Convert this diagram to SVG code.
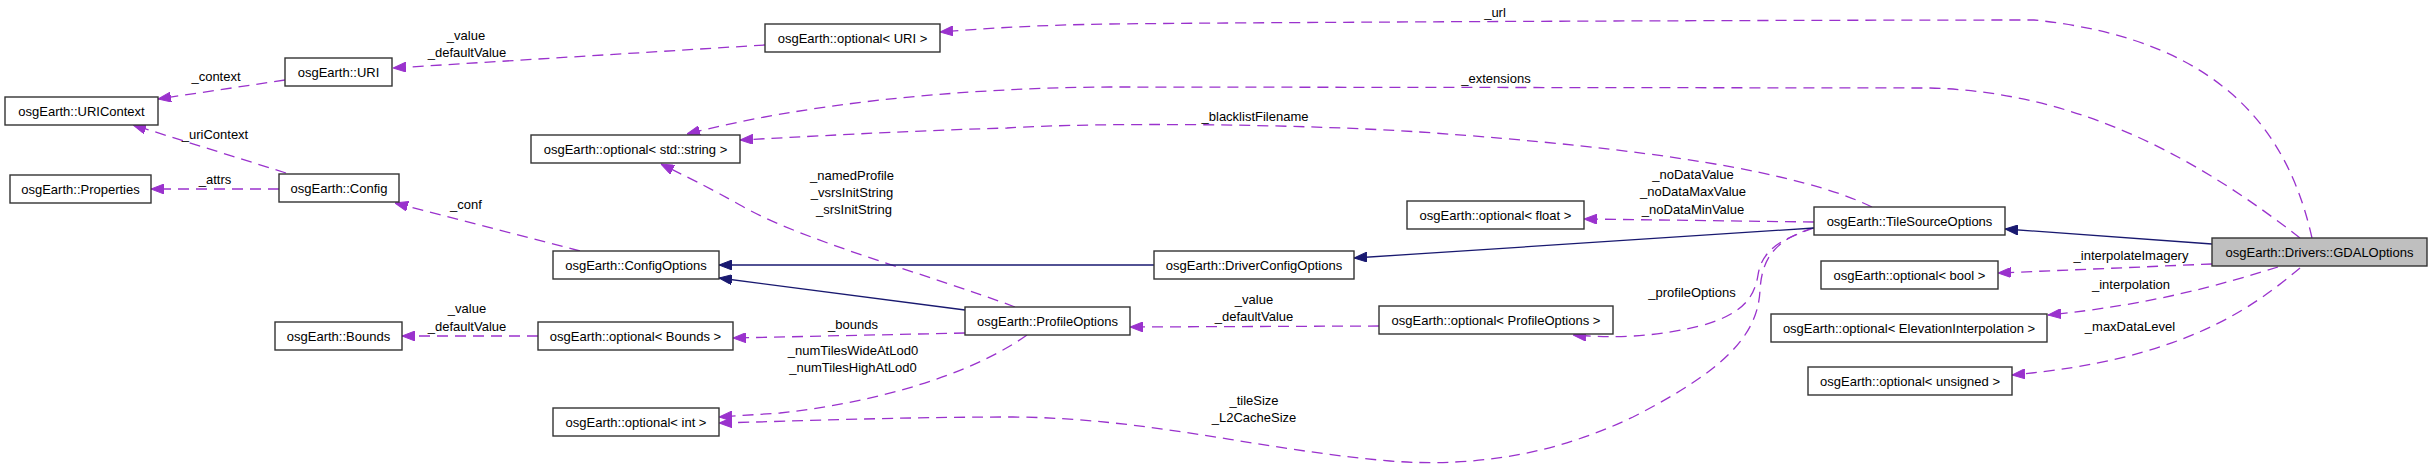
<svg xmlns="http://www.w3.org/2000/svg" width="2429" height="470" viewBox="0 0 2429 470">
<style>
.n rect{fill:#fff;stroke:#333;stroke-width:1.4}
.n.g rect{fill:#bfbfbf}
.n text{font-family:"Liberation Sans",Arial,sans-serif;font-size:13px;fill:#000;text-anchor:middle}
.e{fill:none;stroke:#9a32cd;stroke-width:1.3;stroke-dasharray:11,7;marker-end:url(#ap)}
.i{fill:none;stroke:#191970;stroke-width:1.3;marker-end:url(#an)}
.l{font-family:"Liberation Sans",Arial,sans-serif;font-size:13px;fill:#000;text-anchor:middle}
</style>
<defs>
<marker id="ap" viewBox="0 0 13 10" refX="13" refY="5" markerWidth="13" markerHeight="10" markerUnits="userSpaceOnUse" orient="auto"><path d="M0,0 L13,5 L0,10 z" fill="#9a32cd" stroke="#9a32cd" stroke-width="1"/></marker>
<marker id="an" viewBox="0 0 13 10" refX="13" refY="5" markerWidth="13" markerHeight="10" markerUnits="userSpaceOnUse" orient="auto"><path d="M0,0 L13,5 L0,10 z" fill="#191970" stroke="#191970" stroke-width="1"/></marker>
</defs>
<rect width="2429" height="470" fill="#fff"/>
<g id="connectors">
<path class="e" d="M765,45 L393,68"/>
<path class="e" d="M285,80 L158,99"/>
<path class="e" d="M286,173 L133,125"/>
<path class="e" d="M279,189 L151,189"/>
<path class="e" d="M580,251 L395,203"/>
<path class="e" d="M538,336 L402,336"/>
<path class="e" d="M2312,238 C2290,140 2230,40 2034,20 C1800,20 1300,22 1110,24 C1040,25 990,28 940,32"/>
<path class="e" d="M2300,238 C2200,160 2080,92 1930,88 L1110,87 C950,88 800,105 687,134"/>
<path class="e" d="M1872,207 C1800,172 1650,148 1420,132 C1300,124 1100,122 1007,128 C900,131 800,137 740,140"/>
<path class="e" d="M1015,307 C930,275 800,240 740,205 C710,188 685,176 661,164"/>
<path class="e" d="M1814,222 L1584,219"/>
<path class="e" d="M1379,326 L1130,327"/>
<path class="e" d="M1814,228 C1785,238 1762,248 1758,275 C1754,300 1740,315 1700,326 C1650,338 1610,338 1573,335"/>
<path class="e" d="M965,333 L733,338"/>
<path class="e" d="M1027,335 C985,365 900,400 780,413 L719,417"/>
<path class="e" d="M1813,228 C1775,240 1762,258 1760,290 C1758,335 1725,370 1633,417 C1560,452 1480,468 1390,461 C1260,450 1150,418 1013,417 C900,417 800,421 719,423"/>
<path class="e" d="M2212,264 L1998,273"/>
<path class="e" d="M2278,267 C2220,285 2150,305 2048,315"/>
<path class="e" d="M2300,268 C2250,310 2180,360 2012,375"/>
<path class="i" d="M1154,265 L719,265"/>
<path class="i" d="M965,310 L719,278"/>
<path class="i" d="M1814,228 L1354,258"/>
<path class="i" d="M2212,244 L2005,229"/>
<text class="l" x="466" y="40">_value</text>
<text class="l" x="467" y="57">_defaultValue</text>
<text class="l" x="216" y="81">_context</text>
<text class="l" x="215" y="139">_uriContext</text>
<text class="l" x="215" y="184">_attrs</text>
<text class="l" x="466" y="209">_conf</text>
<text class="l" x="1495" y="17">_url</text>
<text class="l" x="1496" y="83">_extensions</text>
<text class="l" x="1255" y="121">_blacklistFilename</text>
<text class="l" x="852" y="180">_namedProfile</text>
<text class="l" x="852" y="197">_vsrsInitString</text>
<text class="l" x="854" y="214">_srsInitString</text>
<text class="l" x="1693" y="179">_noDataValue</text>
<text class="l" x="1693" y="196">_noDataMaxValue</text>
<text class="l" x="1693" y="214">_noDataMinValue</text>
<text class="l" x="467" y="313">_value</text>
<text class="l" x="467" y="331">_defaultValue</text>
<text class="l" x="853" y="329">_bounds</text>
<text class="l" x="853" y="355">_numTilesWideAtLod0</text>
<text class="l" x="853" y="372">_numTilesHighAtLod0</text>
<text class="l" x="1254" y="304">_value</text>
<text class="l" x="1254" y="321">_defaultValue</text>
<text class="l" x="1254" y="405">_tileSize</text>
<text class="l" x="1254" y="422">_L2CacheSize</text>
<text class="l" x="1692" y="297">_profileOptions</text>
<text class="l" x="2131" y="260">_interpolateImagery</text>
<text class="l" x="2131" y="289">_interpolation</text>
<text class="l" x="2130" y="331">_maxDataLevel</text>
</g>
<g id="n1" class="n"><rect x="5" y="97" width="153" height="28"/><text x="81.5" y="116">osgEarth::URIContext</text></g>
<g id="n2" class="n"><rect x="285" y="58" width="107" height="28"/><text x="338.5" y="77">osgEarth::URI</text></g>
<g id="n3" class="n"><rect x="765" y="24" width="175" height="28"/><text x="852.5" y="43">osgEarth::optional&lt; URI &gt;</text></g>
<g id="n4" class="n"><rect x="10" y="175" width="141" height="28"/><text x="80.5" y="194">osgEarth::Properties</text></g>
<g id="n5" class="n"><rect x="279" y="174" width="120" height="28"/><text x="339" y="193">osgEarth::Config</text></g>
<g id="n6" class="n"><rect x="531" y="135" width="209" height="28"/><text x="635.5" y="154">osgEarth::optional&lt; std::string &gt;</text></g>
<g id="n7" class="n"><rect x="1407" y="201" width="177" height="28"/><text x="1495.5" y="220">osgEarth::optional&lt; float &gt;</text></g>
<g id="n8" class="n"><rect x="1814" y="207" width="191" height="28"/><text x="1909.5" y="226">osgEarth::TileSourceOptions</text></g>
<g id="n9" class="n g"><rect x="2212" y="238" width="215" height="28"/><text x="2319.5" y="257">osgEarth::Drivers::GDALOptions</text></g>
<g id="n10" class="n"><rect x="553" y="251" width="166" height="28"/><text x="636" y="270">osgEarth::ConfigOptions</text></g>
<g id="n11" class="n"><rect x="1154" y="251" width="200" height="28"/><text x="1254" y="270">osgEarth::DriverConfigOptions</text></g>
<g id="n12" class="n"><rect x="1821" y="261" width="177" height="28"/><text x="1909.5" y="280">osgEarth::optional&lt; bool &gt;</text></g>
<g id="n13" class="n"><rect x="275" y="322" width="127" height="28"/><text x="338.5" y="341">osgEarth::Bounds</text></g>
<g id="n14" class="n"><rect x="538" y="322" width="195" height="28"/><text x="635.5" y="341">osgEarth::optional&lt; Bounds &gt;</text></g>
<g id="n15" class="n"><rect x="965" y="307" width="165" height="28"/><text x="1047.5" y="326">osgEarth::ProfileOptions</text></g>
<g id="n16" class="n"><rect x="1379" y="306" width="234" height="28"/><text x="1496" y="325">osgEarth::optional&lt; ProfileOptions &gt;</text></g>
<g id="n17" class="n"><rect x="1771" y="314" width="276" height="28"/><text x="1909" y="333">osgEarth::optional&lt; ElevationInterpolation &gt;</text></g>
<g id="n18" class="n"><rect x="553" y="408" width="166" height="28"/><text x="636" y="427">osgEarth::optional&lt; int &gt;</text></g>
<g id="n19" class="n"><rect x="1808" y="367" width="204" height="28"/><text x="1910" y="386">osgEarth::optional&lt; unsigned &gt;</text></g>
</svg>
